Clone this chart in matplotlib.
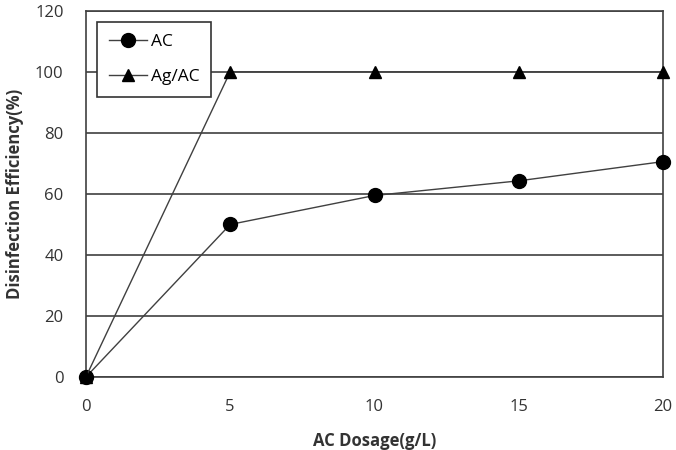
import matplotlib
matplotlib.use("Agg")
import matplotlib.pyplot as plt

dosage = [0, 5, 10, 15, 20]
ac = [0, 50, 59.5, 64.3, 70.6]
agac = [0, 100, 100, 100, 100]
xticks = [0, 5, 10, 15, 20]
yticks = [0, 20, 40, 60, 80, 100, 120]

plt.rcParams['font.family'] = ['Open Sans', 'DejaVu Sans']

fig = plt.figure(figsize=(6.76, 4.5), dpi=100)
ax = fig.add_axes([0.127, 0.162, 0.854, 0.814])
ax.set_xlim(0, 20)
ax.set_ylim(0, 120)
ax.set_xticks(xticks)
ax.set_yticks(yticks)
ax.yaxis.grid(True, color='#404040', linewidth=1.2)
ax.set_axisbelow(True)
for s in ax.spines.values():
    s.set_color('#404040')
    s.set_linewidth(1.2)
ax.tick_params(length=0, labelsize=12, colors='#333333')
ax.tick_params(axis='y', pad=16)
ax.tick_params(axis='x', pad=16)

ax.plot(dosage, ac, color='#404040', linewidth=1.0, marker='o', markersize=10,
        markerfacecolor='black', markeredgecolor='black', label='AC', clip_on=False, zorder=3)
ax.plot(dosage, agac, color='#404040', linewidth=1.0, marker='^', markersize=9,
        markerfacecolor='black', markeredgecolor='black', label='Ag/AC', clip_on=False, zorder=3)

ax.set_xlabel('AC Dosage(g/L)', fontsize=12, fontweight='bold', color='#333333', labelpad=12)
ax.set_ylabel('Disinfection Efficiency(%)', fontsize=12, fontweight='bold', color='#333333', labelpad=8)

leg = ax.legend(loc='upper left', bbox_to_anchor=(0.019, 0.97), fancybox=False,
                edgecolor='#333333', framealpha=1, fontsize=12.5, handlelength=2.2,
                borderpad=0.7, labelspacing=1.1, handletextpad=0.2, borderaxespad=0)
leg.get_frame().set_linewidth(1.2)

fig.savefig('out.png', dpi=100)
